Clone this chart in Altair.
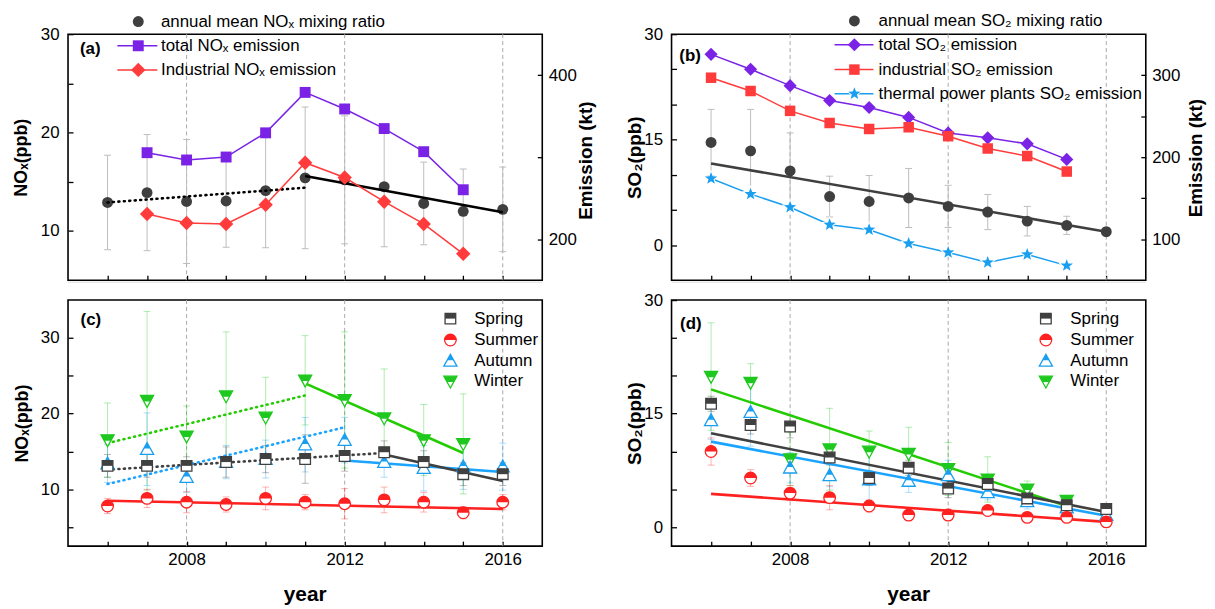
import math
import altair as alt
import pandas as pd

# ---------------- data ----------------
YEARS = list(range(2006, 2017))
GRID_YEARS = [2008, 2012, 2016]

# panel (a)
NOX_ANNUAL = [12.9, 13.9, 13.0, 13.05, 14.1, 15.4, 15.2, 14.5, 12.8, 12.0, 12.2]
NOX_ANNUAL_ERR = [4.8, 5.9, 6.3, 4.7, 5.8, 7.2, 6.5, 6.1, 4.2, 4.3, 4.3]
NOX_EMIS_YEARS = list(range(2007, 2016))
NOX_TOTAL_EMIS = [305.5, 296.6, 300.2, 329.7, 379.0, 358.8, 334.9, 306.7, 260.3]
NOX_IND_EMIS = [230.7, 219.8, 218.6, 242.0, 293.3, 275.2, 245.7, 218.6, 182.2]
NOX_TREND1_YEARS = [2006, 2011]
NOX_TREND1 = [12.9, 14.4]
NOX_TREND2_YEARS = [2011, 2016]
NOX_TREND2 = [15.6, 11.9]

# panel (b)
SO2_ANNUAL = [14.6, 13.4, 10.55, 6.9, 6.2, 6.7, 5.5, 4.7, 3.4, 2.8, 1.9]
SO2_ANNUAL_ERR = [4.7, 5.9, 5.4, 2.9, 3.7, 4.2, 3.0, 2.5, 2.1, 1.3, 0.6]
SO2_EMIS_YEARS = list(range(2006, 2016))
SO2_TOTAL_EMIS = [325.4, 307.2, 287.2, 269.1, 260.6, 248.5, 229.6, 223.6, 216.3, 197.3]
SO2_IND_EMIS = [296.9, 280.7, 256.5, 241.7, 234.4, 236.5, 225.6, 210.6, 201.4, 182.5]
SO2_THERMAL_EMIS = [174.0, 155.0, 139.0, 117.6, 111.6, 94.7, 83.8, 71.7, 81.4, 67.8]
SO2_TREND_YEARS = [2006, 2016]
SO2_TREND = [11.6, 1.9]

# panel (c) seasonal NOx
WINTER_YEARS = list(range(2006, 2016))
NOX_SPRING = [13.1, 13.1, 13.1, 13.6, 14.0, 14.0, 14.4, 14.9, 13.6, 12.0, 12.0]
NOX_SPRING_ERR = [1.5, 1.5, 1.2, 2.0, 1.8, 3.2, 2.0, 1.5, 1.5, 1.5, 1.5]
NOX_SUMMER = [7.8, 8.8, 8.3, 8.0, 8.8, 8.3, 8.1, 8.6, 8.3, 6.9, 8.3]
NOX_SUMMER_ERR = [1.0, 1.2, 1.4, 1.0, 1.5, 1.0, 2.0, 1.7, 1.3, 0.8, 1.0]
NOX_AUTUMN = [13.4, 15.3, 11.6, 13.6, 14.0, 15.9, 16.5, 13.6, 12.8, 13.0, 13.0]
NOX_AUTUMN_ERR = [2.5, 4.8, 2.0, 2.2, 2.5, 3.6, 3.0, 2.0, 3.0, 3.0, 3.1]
NOX_WINTER = [16.5, 21.7, 17.0, 22.3, 19.5, 24.4, 21.8, 19.4, 16.5, 16.0]
NOX_WINTER_ERR = [4.9, 11.8, 4.0, 8.5, 5.3, 5.9, 9.0, 6.5, 4.7, 6.6]
NOX_WINTER_T1 = ([2006, 2011], [16.1, 22.4])
NOX_WINTER_T2 = ([2011, 2015], [24.0, 14.8])
NOX_AUTUMN_T1 = ([2006, 2012], [10.7, 18.2])
NOX_AUTUMN_T2 = ([2012, 2016], [13.8, 12.3])
NOX_SPRING_T1 = ([2006, 2013], [12.6, 14.8])
NOX_SPRING_T2 = ([2013, 2016], [14.6, 11.1])
NOX_SUMMER_T = ([2006, 2016], [8.5, 7.4])

# panel (d) seasonal SO2
SO2_SPRING = [16.3, 13.5, 13.3, 9.2, 6.5, 7.85, 5.1, 5.7, 3.8, 2.9, 2.4]
SO2_SPRING_ERR = [1.0, 1.2, 1.5, 1.0, 1.0, 1.0, 1.2, 1.0, 0.8, 0.6, 0.5]
SO2_SUMMER = [10.0, 6.5, 4.5, 3.9, 2.8, 1.6, 1.6, 2.2, 1.3, 1.3, 0.7]
SO2_SUMMER_ERR = [1.8, 1.1, 1.0, 1.6, 0.8, 0.5, 0.6, 0.6, 0.5, 0.4, 0.3]
SO2_AUTUMN = [14.1, 15.2, 7.85, 6.85, 6.3, 6.1, 6.85, 4.6, 3.4, 2.6, 1.6]
SO2_AUTUMN_ERR = [2.5, 4.5, 2.0, 1.5, 4.0, 1.5, 2.0, 1.0, 1.0, 0.8, 0.6]
SO2_WINTER = [19.9, 19.1, 9.0, 10.3, 10.0, 9.7, 7.7, 6.3, 5.0, 3.5]
SO2_WINTER_ERR = [7.1, 2.5, 3.5, 5.4, 2.7, 3.5, 3.5, 3.0, 1.1, 0.7]
SO2_WINTER_T = ([2006, 2015], [18.2, 2.8])
SO2_SPRING_T = ([2006, 2016], [12.4, 2.0])
SO2_AUTUMN_T = ([2006, 2016], [11.3, 1.5])
SO2_SUMMER_T = ([2006, 2016], [4.4, 0.7])

SEASONS = ["Spring", "Summer", "Autumn", "Winter"]

# ---------------- style ----------------
FONT = "Liberation Sans"
W, H = 478, 248
DARK = "#3f3f3f"
PURPLE = "#7a22e6"
RED = "#ff3b3b"
BLUE = "#1a9ff0"
GRID = "#a8a8a8"
ERR = "#bdbdbd"
SEASON_COLORS = {"Spring": "#404040", "Summer": "#ff2020", "Autumn": "#1a9ff0", "Winter": "#1ec81e"}
TREND_COLORS = {"Spring": "#404040", "Summer": "#ff2020", "Autumn": "#1aa3ff", "Winter": "#22cc00"}


def _fmt(v):
    return "%.3f" % (0.0 if abs(v) < 1e-9 else v)


_half_circle = "M-1,0" + "".join(
    "L%s,%s" % (_fmt(math.cos(math.pi + math.pi * k / 16)), _fmt(math.sin(math.pi + math.pi * k / 16)))
    for k in range(1, 17)) + "Z"
STAR = "M" + "L".join(
    "%s,%s" % (_fmt((1.0 if k % 2 == 0 else 0.42) * math.cos(-math.pi / 2 + k * math.pi / 5)),
               _fmt((1.0 if k % 2 == 0 else 0.42) * math.sin(-math.pi / 2 + k * math.pi / 5)))
    for k in range(10)) + "Z"
SHAPES = {
    "Spring": ("square", "M-1,-1L1,-1L1,0L-1,0Z", 115),
    "Summer": ("circle", _half_circle, 137),
    "Autumn": ("M0,-1L1,0.8L-1,0.8Z", "M0,-1L0.5,-0.1L-0.5,-0.1Z", 175),
    "Winter": ("M-1,-0.8L1,-0.8L0,1Z", "M-1,-0.8L1,-0.8L0.5,0.1L-0.5,0.1Z", 175),
}

XS = alt.Scale(domain=[2005, 2017], nice=False, zero=False)
ONE = pd.DataFrame({"k": [0]})

TICK = dict(tickSize=5, offset=-5, domain=False, grid=False, ticks=True,
            tickColor="black", tickWidth=1.3, labelFont=FONT, labelFontSize=17,
            labelColor="black", labelFlush=False, labelOverlap=False,
            titleFont=FONT, titleColor="black", titleFontWeight="bold")

XAX_TOP = alt.Axis(values=YEARS, labels=False, title=None, **TICK)
XAX_BOT = alt.Axis(values=YEARS, format="d",
                   labelExpr="datum.value % 4 == 0 ? datum.label : ''",
                   labelPadding=6, title=None, **TICK)


def y_left(values, mod, title, tx, size):
    return alt.Axis(orient="left", values=values,
                    labelExpr=f"datum.value % {mod} == 0 ? datum.label : ''",
                    labelPadding=9, title=title, titleFontSize=size, titleAngle=270,
                    titleAlign="center", titleBaseline="top", titleX=tx, titleY=124, **TICK)


def y_right(values, mod):
    return alt.Axis(orient="right", values=values,
                    labelExpr=f"datum.value % {mod} == 0 ? datum.label : ''",
                    labelPadding=6, title=None, **TICK)


class P:
    """Shared x axis of one panel plus one y scale/axis."""

    def __init__(self, xaxis, ys, yax):
        self.xaxis, self.ys, self.yax = xaxis, ys, yax

    def x(self):
        return alt.X("year:Q", scale=XS, axis=self.xaxis)

    def y(self, field):
        return alt.Y(f"{field}:Q", scale=self.ys, axis=self.yax)


def grid_layer(p):
    df = pd.DataFrame({"year": GRID_YEARS})
    return alt.Chart(df).mark_rule(color=GRID, strokeDash=[4, 3], strokeWidth=1).encode(x=p.x())


def errbars(p, years, vals, errs, color, opacity, width=1.0):
    df = pd.DataFrame({"year": years, "v": vals, "e": errs})
    df["lo"] = df["v"] - df["e"]
    df["hi"] = df["v"] + df["e"]
    base = alt.Chart(df)
    rule = base.mark_rule(color=color, strokeWidth=width, opacity=opacity).encode(
        x=p.x(), y=p.y("lo"), y2="hi:Q")
    c1 = base.mark_tick(color=color, orient="horizontal", size=7, thickness=width, opacity=opacity).encode(
        x=p.x(), y=p.y("lo"))
    c2 = base.mark_tick(color=color, orient="horizontal", size=7, thickness=width, opacity=opacity).encode(
        x=p.x(), y=p.y("hi"))
    return [rule, c1, c2]


def points(p, years, vals, **mk):
    df = pd.DataFrame({"year": years, "v": vals})
    return alt.Chart(df).mark_point(filled=True, opacity=1, **mk).encode(x=p.x(), y=p.y("v"))


def line(p, years, vals, color, width, dotted=False):
    df = pd.DataFrame({"year": years, "v": vals})
    kw = dict(color=color, strokeWidth=width)
    if dotted:
        kw.update(strokeDash=[1, 4.5], strokeCap="round")
    return alt.Chart(df).mark_line(**kw).encode(x=p.x(), y=p.y("v"))


def season_pts(p, years, vals, season):
    full, half, size = SHAPES[season]
    col = SEASON_COLORS[season]
    return [points(p, years, vals, shape=full, fill="white", stroke=col, strokeWidth=1.3, size=size),
            points(p, years, vals, shape=half, fill=col, size=size)]


def ltext(txt, x, y, size=17, weight="normal", angle=0, align="left", baseline="middle"):
    kw = dict(text=txt, align=align, baseline=baseline, font=FONT, fontSize=size,
              fontWeight=weight, color="black")
    if angle:
        kw["angle"] = angle
    return alt.Chart(ONE).mark_text(**kw).encode(x=alt.value(x), y=alt.value(y))


def lpoint(x, y, **mk):
    return alt.Chart(ONE).mark_point(filled=True, opacity=1, **mk).encode(x=alt.value(x), y=alt.value(y))


def lline(x1, x2, y, color, w=1.5):
    return alt.Chart(ONE).mark_rule(color=color, strokeWidth=w).encode(
        x=alt.value(x1), x2=alt.value(x2), y=alt.value(y))


def season_legend(mx, tx):
    out = []
    for s, yy in zip(SEASONS, [18.7, 40.3, 61.3, 82.0]):
        full, half, size = SHAPES[s]
        col = SEASON_COLORS[s]
        out.append(lpoint(mx, yy, shape=full, fill="white", stroke=col, strokeWidth=1.3, size=size))
        out.append(lpoint(mx, yy, shape=half, fill=col, size=size))
        out.append(ltext(s, tx, yy))
    return out


# ---------------- panel (a) ----------------
pa = P(XAX_TOP, alt.Scale(domain=[5, 30], nice=False, zero=False),
       y_left([10, 15, 20, 25, 30], 10, "NOₓ(ppb)", -60.5, 18))
pa_r = P(XAX_TOP, alt.Scale(domain=[150, 450], nice=False, zero=False), y_right([200, 300, 400], 200))
left_a = [grid_layer(pa)]
left_a += errbars(pa, YEARS, NOX_ANNUAL, NOX_ANNUAL_ERR, ERR, 1)
left_a += [points(pa, YEARS, NOX_ANNUAL, shape="circle", color=DARK, size=121),
           line(pa, NOX_TREND1_YEARS, NOX_TREND1, "black", 2.6, dotted=True),
           line(pa, NOX_TREND2_YEARS, NOX_TREND2, "black", 2.6),
           ltext("(a)", 12, 15, weight="bold"),
           lpoint(70.8, -12.7, shape="circle", color=DARK, size=121),
           ltext("annual mean NOₓ mixing ratio", 93.7, -12.7),
           lline(49.7, 90, 11.7, PURPLE),
           lpoint(70.8, 11.7, shape="square", color=PURPLE, size=121),
           ltext("total NOₓ emission", 93.7, 11.7),
           lline(49.7, 90, 36, RED),
           lpoint(70.8, 36, shape="diamond", color=RED, size=210),
           ltext("Industrial NOₓ emission", 93.7, 36),
           ltext("Emission (kt)", 513.3, 127.5, size=19, weight="bold", angle=270,
                 align="center", baseline="top")]
right_a = [line(pa_r, NOX_EMIS_YEARS, NOX_TOTAL_EMIS, PURPLE, 1.5),
           points(pa_r, NOX_EMIS_YEARS, NOX_TOTAL_EMIS, shape="square", color=PURPLE, size=121),
           line(pa_r, NOX_EMIS_YEARS, NOX_IND_EMIS, RED, 1.5),
           points(pa_r, NOX_EMIS_YEARS, NOX_IND_EMIS, shape="diamond", color=RED, size=210)]
panel_a = alt.layer(alt.layer(*left_a), alt.layer(*right_a)).resolve_scale(
    y="independent").properties(width=W, height=H)

# ---------------- panel (b) ----------------
pb = P(XAX_TOP, alt.Scale(domain=[-5, 30], nice=False, zero=False),
       y_left([0, 5, 10, 15, 20, 25, 30], 15, "SO₂(ppb)", -51.2, 19))
pb_r = P(XAX_TOP, alt.Scale(domain=[50, 350], nice=False, zero=False), y_right([100, 150, 200, 250, 300], 100))
left_b = [grid_layer(pb)]
left_b += errbars(pb, YEARS, SO2_ANNUAL, SO2_ANNUAL_ERR, ERR, 1)
left_b += [points(pb, YEARS, SO2_ANNUAL, shape="circle", color=DARK, size=121),
           line(pb, SO2_TREND_YEARS, SO2_TREND, DARK, 2.6),
           ltext("(b)", 7.8, 21.7, weight="bold"),
           lpoint(184.3, -13.3, shape="circle", color=DARK, size=121),
           ltext("annual mean SO₂ mixing ratio", 208.6, -13.3),
           lline(164.3, 203.5, 10.7, PURPLE),
           lpoint(184.3, 10.7, shape="diamond", color=PURPLE, size=175),
           ltext("total SO₂ emission", 208.6, 10.7),
           lline(164.3, 203.5, 35.7, RED),
           lpoint(184.3, 35.7, shape="square", color=RED, size=112),
           ltext("industrial SO₂ emission", 208.6, 35.7),
           lline(164.3, 203.5, 60, BLUE),
           lpoint(184.3, 60, shape=STAR, color="white", size=330),
           lpoint(184.3, 60, shape=STAR, color=BLUE, size=170),
           ltext("thermal power plants SO₂ emission", 208.6, 60),
           ltext("Emission (kt)", 519.6, 125, size=19, weight="bold", angle=270,
                 align="center", baseline="top")]
right_b = [line(pb_r, SO2_EMIS_YEARS, SO2_TOTAL_EMIS, PURPLE, 1.5),
           points(pb_r, SO2_EMIS_YEARS, SO2_TOTAL_EMIS, shape="diamond", color=PURPLE, size=175),
           line(pb_r, SO2_EMIS_YEARS, SO2_IND_EMIS, RED, 1.5),
           points(pb_r, SO2_EMIS_YEARS, SO2_IND_EMIS, shape="square", color=RED, size=112),
           line(pb_r, SO2_EMIS_YEARS, SO2_THERMAL_EMIS, BLUE, 1.5),
           points(pb_r, SO2_EMIS_YEARS, SO2_THERMAL_EMIS, shape=STAR, color="white", size=330),
           points(pb_r, SO2_EMIS_YEARS, SO2_THERMAL_EMIS, shape=STAR, color=BLUE, size=170)]
panel_b = alt.layer(alt.layer(*left_b), alt.layer(*right_b)).resolve_scale(
    y="independent").properties(width=W, height=H)


# ---------------- seasonal panels ----------------
def season_panel(series, trends, ys, yax, label, lx, ly, mx, tx):
    p = P(XAX_BOT, ys, yax)
    layers = [grid_layer(p), lline(0, W, -18, "#dcdcdc", 1)]
    for s in ["Winter", "Autumn", "Spring", "Summer"]:
        yrs, v, e = series[s]
        layers += errbars(p, yrs, v, e, SEASON_COLORS[s], 0.35)
    for s, t, dotted in trends:
        layers.append(line(p, t[0], t[1], TREND_COLORS[s], 2.6, dotted=dotted))
    for s in ["Winter", "Autumn", "Spring", "Summer"]:
        yrs, v, e = series[s]
        layers += season_pts(p, yrs, v, s)
    layers.append(ltext(label, lx, ly, weight="bold"))
    layers += season_legend(mx, tx)
    layers.append(ltext("year", W / 2, 303, size=21, weight="bold", align="center", baseline="alphabetic"))
    return alt.layer(*layers).properties(width=W, height=H)


panel_c = season_panel(
    {"Spring": (YEARS, NOX_SPRING, NOX_SPRING_ERR), "Summer": (YEARS, NOX_SUMMER, NOX_SUMMER_ERR),
     "Autumn": (YEARS, NOX_AUTUMN, NOX_AUTUMN_ERR), "Winter": (WINTER_YEARS, NOX_WINTER, NOX_WINTER_ERR)},
    [("Winter", NOX_WINTER_T1, True), ("Winter", NOX_WINTER_T2, False),
     ("Autumn", NOX_AUTUMN_T1, True), ("Autumn", NOX_AUTUMN_T2, False),
     ("Spring", NOX_SPRING_T1, True), ("Spring", NOX_SPRING_T2, False),
     ("Summer", NOX_SUMMER_T, False)],
    alt.Scale(domain=[2.5, 35], nice=False, zero=False),
    y_left([5, 10, 15, 20, 25, 30], 10, "NOₓ(ppb)", -60, 18),
    "(c)", 12.6, 20.3, 385.4, 409.5)

panel_d = season_panel(
    {"Spring": (YEARS, SO2_SPRING, SO2_SPRING_ERR), "Summer": (YEARS, SO2_SUMMER, SO2_SUMMER_ERR),
     "Autumn": (YEARS, SO2_AUTUMN, SO2_AUTUMN_ERR), "Winter": (WINTER_YEARS, SO2_WINTER, SO2_WINTER_ERR)},
    [("Winter", SO2_WINTER_T, False), ("Spring", SO2_SPRING_T, False),
     ("Autumn", SO2_AUTUMN_T, False), ("Summer", SO2_SUMMER_T, False)],
    alt.Scale(domain=[-2.5, 30], nice=False, zero=False),
    y_left([0, 5, 10, 15, 20, 25, 30], 15, "SO₂(ppb)", -51, 19),
    "(d)", 8.6, 23.7, 377.3, 401.9)

chart = alt.concat(panel_a, panel_b, panel_c, panel_d, columns=2,
                   spacing={"row": 20, "column": 130.3}, bounds="flush").properties(
    padding={"left": 3.5, "top": 0, "right": 0, "bottom": 0}
).configure_view(stroke="black", strokeWidth=1.6)

chart.save("out.html", embed_options={"renderer": "svg", "actions": False})
